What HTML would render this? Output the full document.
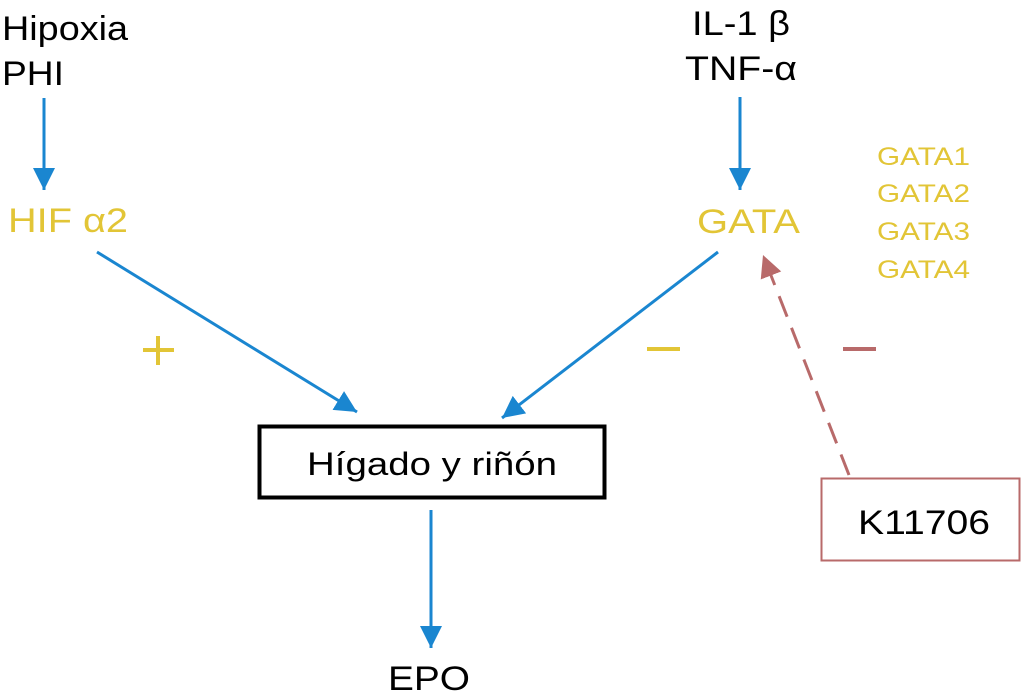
<!DOCTYPE html>
<html><head><meta charset="utf-8"><style>
html,body{margin:0;padding:0;background:#fff;width:1024px;height:699px;overflow:hidden}
svg{display:block}
text{font-family:"Liberation Sans",Arial,sans-serif}
.b{font-size:34px}
.g{font-size:25px}
</style></head><body>
<svg width="1024" height="699" viewBox="0 0 1024 699" xmlns="http://www.w3.org/2000/svg">
<defs>
<marker id="ab" markerUnits="userSpaceOnUse" markerWidth="24" markerHeight="24" refX="22" refY="12" orient="auto" viewBox="0 0 24 24">
<path d="M0,1 L22,12 L0,23 Z" fill="#1a86d0"/></marker>
<marker id="ar" markerUnits="userSpaceOnUse" markerWidth="24" markerHeight="24" refX="22" refY="12" orient="auto" viewBox="0 0 24 24">
<path d="M0,1 L22,12 L0,23 Z" fill="#b86a6a"/></marker>
</defs>
<g fill="#000">
<text class="b" x="2" y="40" textLength="126" lengthAdjust="spacingAndGlyphs">Hipoxia</text>
<text class="b" x="2" y="85" textLength="62" lengthAdjust="spacingAndGlyphs">PHI</text>
<text class="b" x="692" y="35" textLength="98" lengthAdjust="spacingAndGlyphs">IL-1 β</text>
<text class="b" x="685" y="80" textLength="112" lengthAdjust="spacingAndGlyphs">TNF-α</text>
</g>
<g fill="#e2c536">
<text class="b" x="8" y="232" textLength="120" lengthAdjust="spacingAndGlyphs">HIF α2</text>
<text class="b" x="697" y="233" textLength="103" lengthAdjust="spacingAndGlyphs">GATA</text>
<text class="g" x="877" y="165" textLength="93" lengthAdjust="spacingAndGlyphs">GATA1</text>
<text class="g" x="877" y="202" textLength="93" lengthAdjust="spacingAndGlyphs">GATA2</text>
<text class="g" x="877" y="240" textLength="93" lengthAdjust="spacingAndGlyphs">GATA3</text>
<text class="g" x="877" y="278" textLength="93" lengthAdjust="spacingAndGlyphs">GATA4</text>
</g>
<g stroke="#1a86d0" stroke-width="3" fill="none">
<line x1="44" y1="98" x2="44" y2="190" marker-end="url(#ab)"/>
<line x1="740" y1="97" x2="740" y2="190" marker-end="url(#ab)"/>
<line x1="97" y1="252" x2="357" y2="412" marker-end="url(#ab)"/>
<line x1="718" y1="252" x2="502" y2="418" marker-end="url(#ab)"/>
<line x1="431" y1="510" x2="431" y2="648" marker-end="url(#ab)"/>
</g>
<line x1="849" y1="475" x2="763" y2="255" stroke="#b86a6a" stroke-width="3" stroke-dasharray="22,12" marker-end="url(#ar)"/>
<g stroke="#e2c536" stroke-width="4">
<line x1="143" y1="350" x2="174" y2="350"/><line x1="158" y1="336" x2="158" y2="365"/>
<line x1="647" y1="349" x2="680" y2="349"/>
</g>
<line x1="843" y1="349" x2="876" y2="349" stroke="#b86a6a" stroke-width="4"/>
<rect x="259.5" y="426.5" width="345" height="71" fill="#fff" stroke="#000" stroke-width="4"/>
<text x="307" y="475" style="font-size:32px" textLength="250" lengthAdjust="spacingAndGlyphs">Hígado y riñón</text>
<rect x="821.5" y="478.5" width="198" height="82" fill="#fff" stroke="#b86a6a" stroke-width="2"/>
<text class="b" x="858" y="534" textLength="132" lengthAdjust="spacingAndGlyphs">K11706</text>
<text class="b" x="388" y="690" textLength="82" lengthAdjust="spacingAndGlyphs">EPO</text>
</svg>
</body></html>
